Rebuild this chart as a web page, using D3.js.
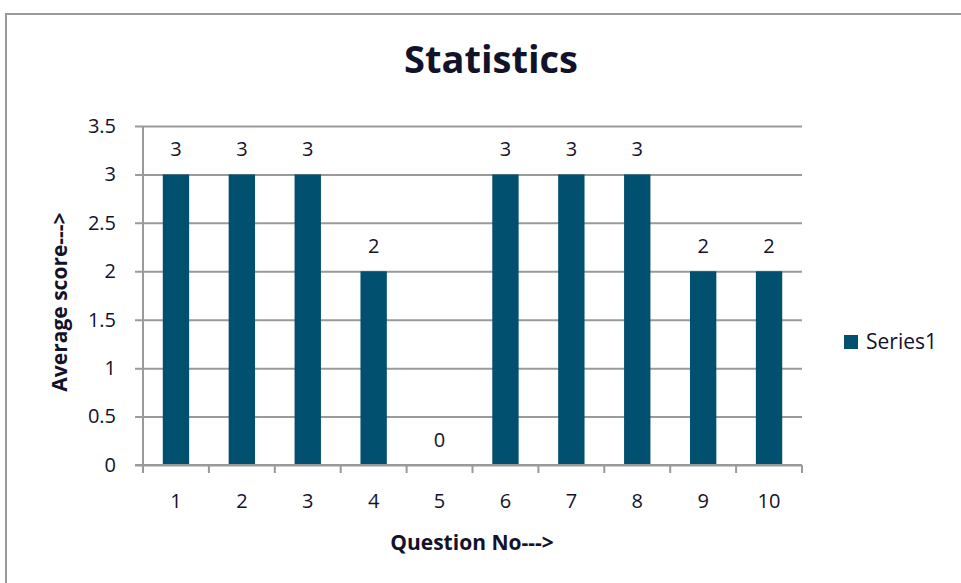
<!DOCTYPE html>
<html>
<head>
<meta charset="utf-8">
<script src="https://cdn.jsdelivr.net/npm/d3@7"></script>
<style>
  html, body { margin: 0; padding: 0; background: #fff; }
  svg { display: block; }
</style>
</head>
<body>
<div id="chart"></div>
<script>
// Statistics — average score per question
const questions = ["1", "2", "3", "4", "5", "6", "7", "8", "9", "10"];
const scores    = [3, 3, 3, 2, 0, 3, 3, 3, 2, 2];
const yTicks    = [0, 0.5, 1, 1.5, 2, 2.5, 3, 3.5];
const seriesName = "Series1";

const W = 961, H = 583;
const TEXT = "#12122a";
const GRID = "#9a9a9a";
const BAR  = "#02506f";
const FONT = "'Open Sans', Lato, sans-serif";

const margin = { top: 126, right: 159, bottom: 118, left: 143 };
const iW = W - margin.left - margin.right;
const iH = H - margin.top - margin.bottom;

const svg = d3.select("#chart").append("svg")
  .attr("width", W).attr("height", H)
  .style("font-family", FONT);

// chart frame (only left/top edges fall inside the window)
svg.append("rect")
  .attr("x", 6).attr("y", 14).attr("width", W + 20).attr("height", H + 20)
  .attr("fill", "none").attr("stroke", "#999").attr("stroke-width", 2);

const g = svg.append("g").attr("transform", `translate(${margin.left},${margin.top})`);

const x  = d3.scaleBand().domain(questions).range([0, iW]).paddingInner(0.6).paddingOuter(0.3);
const xb = d3.scaleBand().domain(questions).range([0, iW]);
const y  = d3.scaleLinear().domain([0, 3.5]).range([iH, 0]);

// horizontal gridlines with left tick stubs
g.append("g")
  .call(d3.axisLeft(y).tickValues(yTicks).tickSize(0).tickFormat(""))
  .call(a => a.select(".domain").remove())
  .call(a => a.selectAll(".tick line").attr("stroke", GRID).attr("stroke-width", 2)
    .attr("x1", -8).attr("x2", iW));

// y labels
g.append("g")
  .call(d3.axisLeft(y).tickValues(yTicks).tickSize(0).tickFormat(d => d))
  .call(a => a.select(".domain").remove())
  .call(a => a.selectAll("text").attr("fill", TEXT).attr("font-size", 20)
    .attr("font-family", FONT).attr("x", -27));

// bars
const rows = questions.map((q, i) => ({ q, v: scores[i] }));
g.selectAll(".bar")
  .data(rows)
  .join("rect")
  .attr("x", d => x(d.q))
  .attr("width", x.bandwidth())
  .attr("y", d => y(d.v))
  .attr("height", d => iH - y(d.v))
  .attr("fill", BAR);

// data labels
g.selectAll(".lbl")
  .data(rows)
  .join("text")
  .attr("x", d => x(d.q) + x.bandwidth() / 2)
  .attr("y", d => y(d.v) - 18)
  .attr("text-anchor", "middle")
  .attr("font-size", 20).attr("fill", TEXT)
  .text(d => d.v);

// left axis line
g.append("line").attr("x1", 0).attr("x2", 0).attr("y1", 0).attr("y2", iH)
  .attr("stroke", GRID).attr("stroke-width", 2);

// x axis with boundary ticks
const xAxis = g.append("g").attr("transform", `translate(0,${iH})`);
xAxis.append("line").attr("x1", -8).attr("x2", iW).attr("stroke", GRID).attr("stroke-width", 2);
xAxis.selectAll(".bt")
  .data(questions.map(q => xb(q)).concat([iW]))
  .join("line")
  .attr("x1", d => d).attr("x2", d => d).attr("y1", 0).attr("y2", 8)
  .attr("stroke", GRID).attr("stroke-width", 2);
xAxis.selectAll(".xl")
  .data(questions)
  .join("text")
  .attr("x", d => xb(d) + xb.bandwidth() / 2)
  .attr("y", 43)
  .attr("text-anchor", "middle")
  .attr("font-size", 20).attr("fill", TEXT)
  .text(d => d);

// title
svg.append("text")
  .attr("x", 491).attr("y", 73)
  .attr("text-anchor", "middle")
  .attr("font-size", 38).attr("font-weight", "bold").attr("fill", TEXT)
  .text("Statistics");

// axis titles
svg.append("text")
  .attr("x", 472).attr("y", 550)
  .attr("text-anchor", "middle")
  .attr("font-size", 21).attr("font-weight", "bold").attr("fill", TEXT)
  .text("Question No--->");

svg.append("text")
  .attr("transform", "translate(67,302) rotate(-90)")
  .attr("text-anchor", "middle")
  .attr("font-size", 21).attr("font-weight", "bold").attr("fill", TEXT)
  .text("Average score--->");

// legend
const leg = svg.append("g").attr("transform", "translate(844,335)");
leg.append("rect").attr("width", 14).attr("height", 14).attr("fill", BAR);
leg.append("text").attr("x", 22).attr("y", 14)
  .attr("font-size", 21).attr("fill", TEXT).text(seriesName);
</script>
</body>
</html>
